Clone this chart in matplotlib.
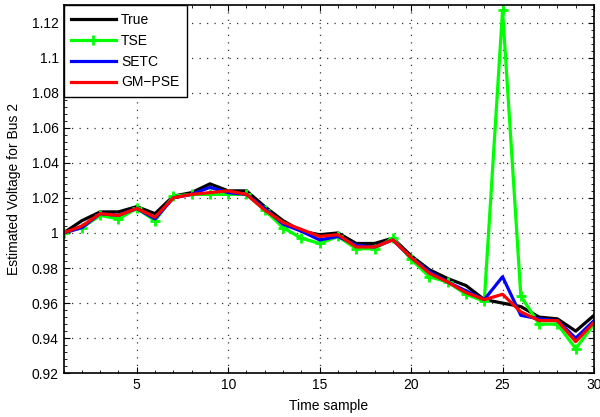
import matplotlib
matplotlib.use("Agg")
import matplotlib.pyplot as plt
from matplotlib.ticker import MultipleLocator, AutoMinorLocator

plt.rcParams['font.family'] = ['Liberation Sans', 'DejaVu Sans']

t = list(range(1, 31))
true_v = [1.000, 1.007, 1.012, 1.012, 1.015, 1.011, 1.021, 1.023, 1.028, 1.024,
          1.024, 1.015, 1.007, 1.001, 0.999, 1.000, 0.994, 0.994, 0.997, 0.987,
          0.979, 0.974, 0.970, 0.962, 0.960, 0.958, 0.952, 0.951, 0.944, 0.953]
tse_v = [1.000, 1.003, 1.010, 1.008, 1.014, 1.007, 1.021, 1.022, 1.022, 1.022,
         1.022, 1.013, 1.003, 0.997, 0.994, 0.998, 0.991, 0.991, 0.997, 0.985,
         0.975, 0.972, 0.965, 0.961, 1.127, 0.964, 0.948, 0.948, 0.934, 0.948]
setc_v = [1.000, 1.003, 1.011, 1.010, 1.014, 1.008, 1.020, 1.022, 1.026, 1.023,
          1.022, 1.014, 1.005, 1.001, 0.996, 0.998, 0.993, 0.992, 0.996, 0.986,
          0.978, 0.972, 0.967, 0.962, 0.975, 0.953, 0.951, 0.950, 0.940, 0.950]
gm_v = [1.000, 1.004, 1.011, 1.010, 1.014, 1.009, 1.020, 1.022, 1.023, 1.024,
        1.022, 1.013, 1.006, 1.002, 0.998, 0.999, 0.992, 0.992, 0.996, 0.986,
        0.977, 0.972, 0.966, 0.962, 0.965, 0.955, 0.950, 0.950, 0.938, 0.949]

fig = plt.figure(figsize=(6.0, 4.17), dpi=100)
ax = fig.add_axes([0.106, 0.105, 0.884, 0.883])

lw = 2.3
ax.plot(t, true_v, color='black', lw=lw, label='True')
ax.plot(t, tse_v, color='#00ff00', lw=lw, marker='+', ms=7, mew=2, label='TSE')
ax.plot(t, setc_v, color='#0000ff', lw=lw, label='SETC')
ax.plot(t, gm_v, color='#ff0000', lw=lw, label='GM\u2212PSE')

ax.set_xlim(1, 30)
ax.set_ylim(0.92, 1.13)
ax.set_xticks([5, 10, 15, 20, 25, 30])
ax.yaxis.set_major_locator(MultipleLocator(0.02))
ax.yaxis.set_minor_locator(AutoMinorLocator(5))
ax.xaxis.set_minor_locator(MultipleLocator(1))
ax.set_yticklabels([f"{v:g}" for v in ax.get_yticks()])
ax.set_ylim(0.92, 1.13)

ax.tick_params(which='both', direction='in', top=True, right=True, labelsize=10)
ax.tick_params(which='major', length=4)
ax.tick_params(which='minor', length=2)
ax.grid(True, which='major', linestyle=(0, (1, 5)), color='#333333', lw=0.9)
for s in ax.spines.values():
    s.set_linewidth(1.2)

ax.set_xlabel('Time sample', fontsize=10, labelpad=5)
ax.set_ylabel('Estimated Voltage for Bus 2', fontsize=10, labelpad=8)

leg = ax.legend(loc='upper left', fontsize=10, frameon=True, fancybox=False,
                edgecolor='black', framealpha=1, borderaxespad=0,
                borderpad=0.55, handlelength=3.2, handletextpad=0.4,
                labelspacing=0.5)
leg.get_frame().set_linewidth(1.0)

fig.savefig('out.png', dpi=100)
